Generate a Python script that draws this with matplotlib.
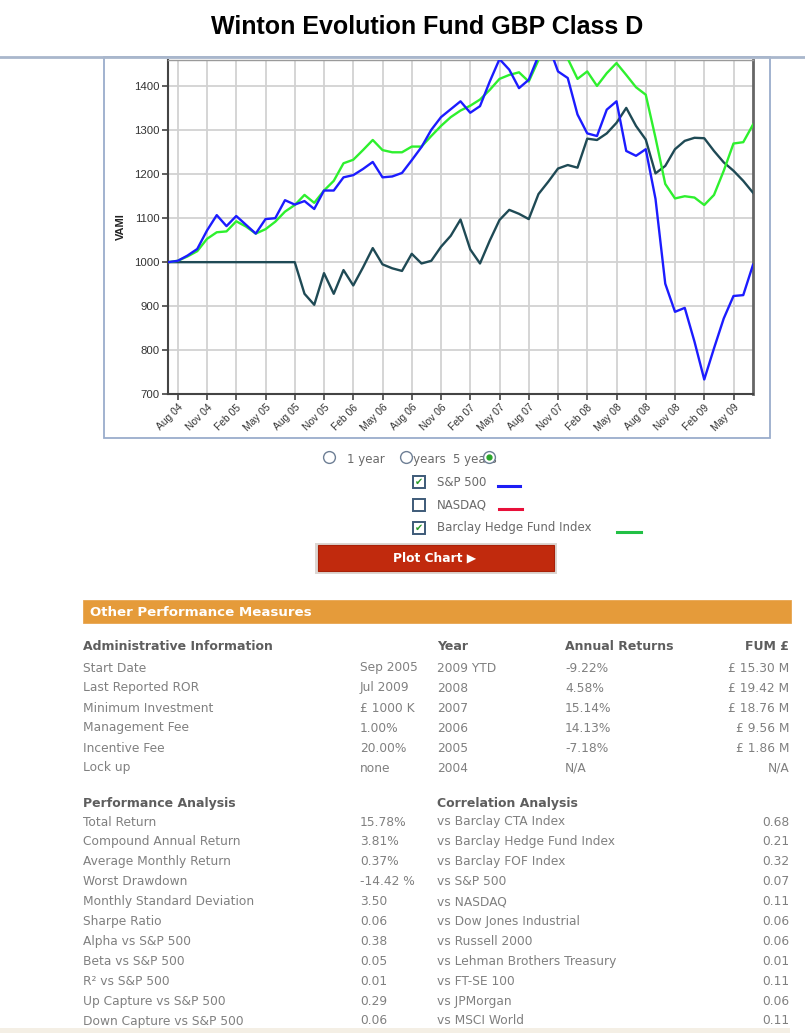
import matplotlib
matplotlib.use("Agg")
import matplotlib.pyplot as plt
from matplotlib.patches import Rectangle
from matplotlib.lines import Line2D

W, H = 805, 1033

# ---------------- data ----------------
months = ["Jul 04", "Aug 04", "Sep 04", "Oct 04", "Nov 04", "Dec 04",
          "Jan 05", "Feb 05", "Mar 05", "Apr 05", "May 05", "Jun 05", "Jul 05", "Aug 05", "Sep 05", "Oct 05", "Nov 05", "Dec 05",
          "Jan 06", "Feb 06", "Mar 06", "Apr 06", "May 06", "Jun 06", "Jul 06", "Aug 06", "Sep 06", "Oct 06", "Nov 06", "Dec 06",
          "Jan 07", "Feb 07", "Mar 07", "Apr 07", "May 07", "Jun 07", "Jul 07", "Aug 07", "Sep 07", "Oct 07", "Nov 07", "Dec 07",
          "Jan 08", "Feb 08", "Mar 08", "Apr 08", "May 08", "Jun 08", "Jul 08", "Aug 08", "Sep 08", "Oct 08", "Nov 08", "Dec 08",
          "Jan 09", "Feb 09", "Mar 09", "Apr 09", "May 09", "Jun 09", "Jul 09"]

sp500 = [1000, 1003, 1015, 1030, 1072, 1107,
         1082, 1105, 1085, 1065, 1098, 1100, 1141, 1131, 1139, 1121, 1163, 1163,
         1193, 1198, 1212, 1228, 1193, 1195, 1203, 1232, 1262, 1301, 1330, 1348,
         1366, 1340, 1355, 1411, 1462, 1438, 1396, 1415, 1470, 1495, 1434, 1419,
         1336, 1293, 1287, 1347, 1366, 1253, 1242, 1257, 1144, 951, 887, 896,
         819, 733, 804, 872, 923, 925, 994]

barclay_hf = [1000, 1003, 1013, 1025, 1053, 1068,
              1070, 1093, 1081, 1065, 1075, 1092, 1115, 1130, 1153, 1135, 1163, 1185,
              1225, 1233, 1255, 1278, 1255, 1250, 1250, 1263, 1263, 1287, 1310, 1330,
              1345, 1356, 1370, 1392, 1417, 1426, 1432, 1411, 1460, 1490, 1500, 1463,
              1417, 1434, 1401, 1430, 1453, 1426, 1398, 1381, 1283, 1178, 1145, 1150,
              1147, 1130, 1153, 1208, 1270, 1273, 1313]

fund = [1000, 1000, 1000, 1000, 1000, 1000,
        1000, 1000, 1000, 1000, 1000, 1000, 1000, 1000, 928, 903, 975, 928,
        982, 947, 988, 1032, 995, 986, 980, 1019, 997, 1003, 1035, 1060,
        1097, 1029, 997, 1049, 1096, 1119, 1110, 1098, 1155, 1183, 1213, 1221,
        1215, 1281, 1278, 1293, 1317, 1351, 1310, 1279, 1202, 1219, 1257, 1276,
        1283, 1282, 1253, 1227, 1208, 1185, 1158]

tick_labels = ["Aug 04", "Nov 04", "Feb 05", "May 05", "Aug 05", "Nov 05", "Feb 06",
               "May 06", "Aug 06", "Nov 06", "Feb 07", "May 07", "Aug 07", "Nov 07",
               "Feb 08", "May 08", "Aug 08", "Nov 08", "Feb 09", "May 09"]
y_ticks = [700, 800, 900, 1000, 1100, 1200, 1300, 1400]

period_options = ["1 year", "3 years", "5 years"]
legend_names = ["S&P 500", "NASDAQ", "Barclay Hedge Fund Index"]
legend_checked = [True, False, True]

admin_labels = ["Start Date", "Last Reported ROR", "Minimum Investment",
                "Management Fee", "Incentive Fee", "Lock up"]
admin_values = ["Sep 2005", "Jul 2009", "£ 1000 K", "1.00%", "20.00%", "none"]
years = ["2009 YTD", "2008", "2007", "2006", "2005", "2004"]
annual_returns = ["-9.22%", "4.58%", "15.14%", "14.13%", "-7.18%", "N/A"]
fum = ["£ 15.30 M", "£ 19.42 M", "£ 18.76 M", "£ 9.56 M", "£ 1.86 M", "N/A"]

perf_labels = ["Total Return", "Compound Annual Return", "Average Monthly Return",
               "Worst Drawdown", "Monthly Standard Deviation", "Sharpe Ratio",
               "Alpha vs S&P 500", "Beta vs S&P 500", "R² vs S&P 500",
               "Up Capture vs S&P 500", "Down Capture vs S&P 500"]
perf_values = ["15.78%", "3.81%", "0.37%", "-14.42 %", "3.50", "0.06",
               "0.38", "0.05", "0.01", "0.29", "0.06"]
corr_labels = ["vs Barclay CTA Index", "vs Barclay Hedge Fund Index", "vs Barclay FOF Index",
               "vs S&P 500", "vs NASDAQ", "vs Dow Jones Industrial", "vs Russell 2000",
               "vs Lehman Brothers Treasury", "vs FT-SE 100", "vs JPMorgan", "vs MSCI World"]
corr_values = ["0.68", "0.21", "0.32", "0.07", "0.11", "0.06", "0.06", "0.01", "0.11", "0.06", "0.11"]

# ---------------- helpers ----------------
def fx(x):
    return x / W

def fy(y):
    return 1 - y / H

fig = plt.figure(figsize=(W / 100, H / 100), dpi=100)
fig.patch.set_facecolor("white")

def rect(x, y, w, h, fc="none", ec="none", lw=1.0, z=0):
    fig.add_artist(Rectangle((fx(x), fy(y + h)), w / W, h / H, transform=fig.transFigure,
                             facecolor=fc, edgecolor=ec, linewidth=lw, zorder=z))

def hline(x0, x1, y, color, lw=1.0, z=1):
    fig.add_artist(Line2D([fx(x0), fx(x1)], [fy(y), fy(y)], transform=fig.transFigure,
                          color=color, linewidth=lw, zorder=z))

def txt(x, y, s, size=8.8, color="#808080", weight="normal", ha="left", family="DejaVu Sans", z=5):
    fig.text(fx(x), fy(y), s, fontsize=size, color=color, fontweight=weight, ha=ha, va="center",
             family=family, zorder=z)

# ---------------- title & frame ----------------
txt(427, 27, "Winton Evolution Fund GBP Class D", size=18, color="black", weight="bold",
    ha="center", family="Liberation Sans")
hline(0, 805, 57, "#a9b7cc", lw=2.0)
rect(104, 57, 666, 381, ec="#9aaccc", lw=1.3, z=0)

# ---------------- chart ----------------
ax = fig.add_axes([fx(168), fy(394), (753 - 168) / W, (394 - 60) / H])
x = list(range(len(months)))
ax.plot(x, fund, color="#1f4a55", lw=1.7, zorder=3)
ax.plot(x, barclay_hf, color="#2ef02e", lw=1.7, zorder=4)
ax.plot(x, sp500, color="#1c1cff", lw=1.7, zorder=5)

ax.set_xlim(0, len(months) - 1)
ax.set_ylim(700, 1460)
tick_pos = [months.index(t) for t in tick_labels]
ax.set_xticks(tick_pos)
ax.set_xticklabels(tick_labels, rotation=45, ha="right", va="top", rotation_mode="anchor",
                   fontsize=7.4, color="#333333", family="Liberation Sans")
ax.set_yticks(y_ticks)
ax.set_yticklabels([str(v) for v in y_ticks], fontsize=8.2, color="#333333", family="Liberation Sans")
ax.tick_params(axis="both", direction="out", length=4, width=1.2, color="#444444", pad=2)
ax.grid(True, color="#d2d2d2", lw=1.3, zorder=0)
ax.set_axisbelow(True)
for side in ["left", "bottom"]:
    ax.spines[side].set_color("#444444")
    ax.spines[side].set_linewidth(1.5)
ax.spines["right"].set_color("#666666")
ax.spines["right"].set_linewidth(2.0)
ax.spines["top"].set_color("#9a9a9a")
ax.spines["top"].set_linewidth(1.0)
ax.set_ylabel("VAMI", fontsize=8, fontweight="bold", color="#222222", family="Liberation Sans",
              labelpad=6)

# ---------------- period radio buttons ----------------
radio_text_x = [347, 402, 453]
radio_circle_x = [329, 406, 489]
for i, lab in enumerate(period_options):
    txt(radio_text_x[i], 459, lab, size=8.5, color="#6a6a6a")
for i, cx in enumerate(radio_circle_x):
    fig.add_artist(Line2D([fx(cx)], [fy(457)], transform=fig.transFigure, marker="o",
                          markersize=8.5, markerfacecolor="white", markeredgecolor="#6e7f95",
                          markeredgewidth=1.0, linestyle="none", zorder=6))
fig.add_artist(Line2D([fx(radio_circle_x[2])], [fy(457)], transform=fig.transFigure, marker="o",
                      markersize=3.5, markerfacecolor="#2aa52a", markeredgecolor="#2aa52a",
                      linestyle="none", zorder=7))

# ---------------- series checkboxes ----------------
legend_colors = ["#1e1ef5", "#e8103a", "#22c045"]
legend_y = [482, 505, 528]
legend_line_x = [(498, 520), (499, 522), (617, 641)]
for i, name in enumerate(legend_names):
    yy = legend_y[i]
    rect(413, yy - 6, 12, 12, fc="white", ec="#3d5a78", lw=1.4, z=6)
    if legend_checked[i]:
        txt(419, yy, "✔", size=7, color="#2a9a2a", ha="center", z=7)
    txt(437, yy, name, size=8.5, color="#6a6a6a")
    x0, x1 = legend_line_x[i]
    hline(x0, x1, yy + 4, legend_colors[i], lw=2.2)

# ---------------- plot chart button ----------------
rect(315, 543, 242, 31, fc="#dcd6d2", ec="none", z=5)
rect(318, 545, 236, 26, fc="#c12a0d", ec="#a82008", lw=0.8, z=6)
txt(435, 558, "Plot Chart ▶", size=8.8, color="white", weight="bold", ha="center", z=7)

# ---------------- other performance measures ----------------
rect(83, 600, 708, 23, fc="#e59b3a", ec="#e8a550", lw=0.6, z=5)
txt(90, 612, "Other Performance Measures", size=9.6, color="white", weight="bold", z=6)

head_col = "#5e5e5e"
row_col = "#808080"
row_h = 20

txt(83, 647, "Administrative Information", size=9.0, color=head_col, weight="bold")
txt(437, 647, "Year", size=9.0, color=head_col, weight="bold")
txt(565, 647, "Annual Returns", size=9.0, color=head_col, weight="bold")
txt(789, 647, "FUM £", size=9.0, color=head_col, weight="bold", ha="right")
for i in range(len(admin_labels)):
    yy = 668 + i * row_h
    txt(83, yy, admin_labels[i], color=row_col)
    txt(360, yy, admin_values[i], color=row_col)
    txt(437, yy, years[i], color=row_col)
    txt(565, yy, annual_returns[i], color=row_col)
    txt(789, yy, fum[i], color=row_col, ha="right")

txt(83, 803, "Performance Analysis", size=9.0, color=head_col, weight="bold")
txt(437, 803, "Correlation Analysis", size=9.0, color=head_col, weight="bold")
for i in range(len(perf_labels)):
    yy = 822 + i * 19.9
    txt(83, yy, perf_labels[i], color=row_col)
    txt(360, yy, perf_values[i], color=row_col)
    txt(437, yy, corr_labels[i], color=row_col)
    txt(789, yy, corr_values[i], color=row_col, ha="right")

rect(0, 1028, 790, 5, fc="#f4efe5", z=1)

fig.savefig("out.png", dpi=100, facecolor="white")
